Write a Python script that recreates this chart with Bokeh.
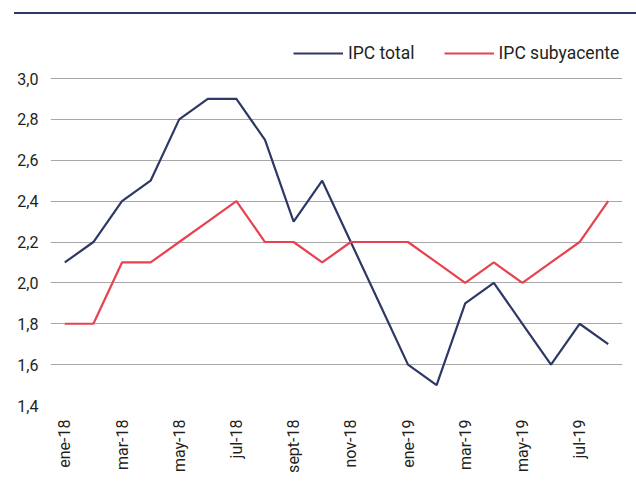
import math
from bokeh.plotting import figure
from bokeh.models import FixedTicker, Legend, LegendItem, Div
from bokeh.layouts import column
from bokeh.embed import file_html
from bokeh.resources import INLINE

months = ["ene-18", "feb-18", "mar-18", "abr-18", "may-18", "jun-18", "jul-18", "ago-18",
          "sept-18", "oct-18", "nov-18", "dic-18", "ene-19", "feb-19", "mar-19", "abr-19",
          "may-19", "jun-19", "jul-19", "ago-19"]
ipc_total = [2.1, 2.2, 2.4, 2.5, 2.8, 2.9, 2.9, 2.7, 2.3, 2.5, 2.2, 1.9, 1.6, 1.5, 1.9, 2.0,
             1.8, 1.6, 1.8, 1.7]
ipc_sub = [1.8, 1.8, 2.1, 2.1, 2.2, 2.3, 2.4, 2.2, 2.2, 2.1, 2.2, 2.2, 2.2, 2.1, 2.0, 2.1,
           2.0, 2.1, 2.2, 2.4]
y_ticks = [1.4, 1.6, 1.8, 2.0, 2.2, 2.4, 2.6, 2.8, 3.0]
series_names = ["IPC total", "IPC subyacente"]

NAVY = "#2e3866"
RED = "#e8414f"
FONT = "Roboto"
TXT = "#231f20"

xs = list(range(len(months)))

# thin navy rule across the top
top = Div(text="", width=622, height=2, margin=(12, 0, 0, 14),
          styles={"background-color": NAVY})

p = figure(width=636, height=466, x_range=(-0.5, len(months) - 0.5), y_range=(1.4, 3.235),
           output_backend="svg", toolbar_location=None)
p.min_border_left = 50
p.min_border_right = 14
p.min_border_top = 16
p.min_border_bottom = 75
p.outline_line_color = None

r1 = p.line(xs, ipc_total, line_color=NAVY, line_width=2.2)
r2 = p.line(xs, ipc_sub, line_color=RED, line_width=2.2)

# y axis
p.yaxis.ticker = FixedTicker(ticks=y_ticks)
p.yaxis.major_label_overrides = {t: f"{t:.1f}".replace(".", ",") for t in y_ticks}
p.yaxis.axis_line_color = None
p.yaxis.major_tick_line_color = None
p.yaxis.minor_tick_line_color = None
p.yaxis.major_label_standoff = 6
p.yaxis.major_label_text_font = FONT
p.yaxis.major_label_text_font_size = "16px"
p.yaxis.major_label_text_color = TXT

# x axis: every other month labelled
shown = xs[::2]
p.xaxis.ticker = FixedTicker(ticks=shown)
p.xaxis.major_label_overrides = {i: months[i] for i in shown}
p.xaxis.axis_line_color = None
p.xaxis.major_tick_line_color = None
p.xaxis.minor_tick_line_color = None
p.xaxis.major_label_orientation = math.pi / 2
p.xaxis.major_label_standoff = 8
p.xaxis.major_label_text_font = FONT
p.xaxis.major_label_text_font_size = "16px"
p.xaxis.major_label_text_color = TXT

p.xgrid.grid_line_color = None
p.ygrid.ticker = FixedTicker(ticks=y_ticks)
p.ygrid.grid_line_color = "#a8a8a8"
p.ygrid.grid_line_width = 1

legend = Legend(items=[LegendItem(label=series_names[0], renderers=[r1]),
                       LegendItem(label=series_names[1], renderers=[r2])],
                orientation="horizontal", location=(243, 342),
                glyph_width=50, glyph_height=20, label_standoff=5, spacing=29,
                padding=0, margin=0,
                label_text_font=FONT, label_text_font_size="17.5px",
                label_text_color=TXT,
                border_line_color=None, background_fill_alpha=0)
p.add_layout(legend, "center")

layout = column(top, p, spacing=0)
open("out.html", "w").write(file_html(layout, INLINE))
